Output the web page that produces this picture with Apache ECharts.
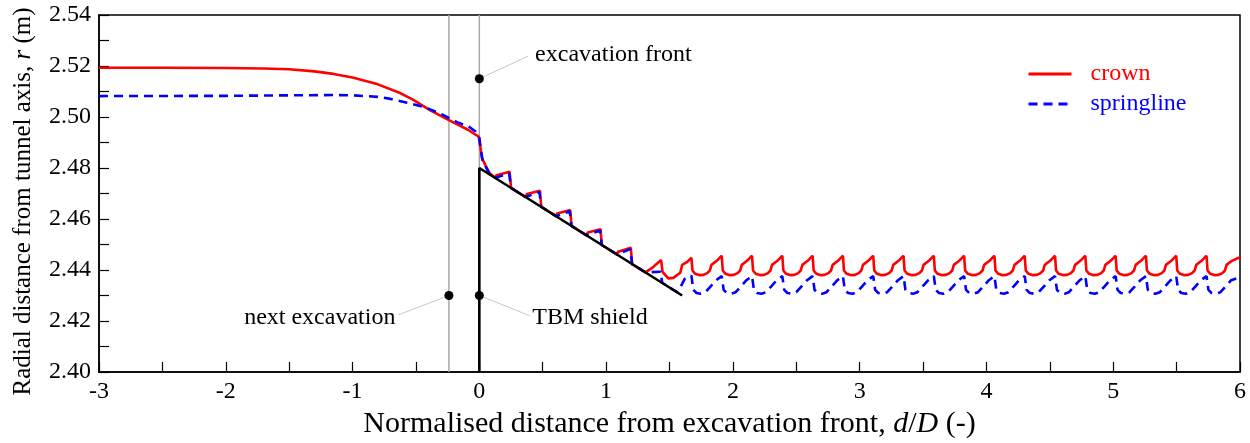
<!DOCTYPE html>
<html>
<head>
<meta charset="utf-8">
<script src="https://cdn.jsdelivr.net/npm/echarts@6/dist/echarts.min.js"></script>
<style>
    html, body { margin: 0; padding: 0; background: #fff; }
    #chart { width: 1250px; height: 443px; }
</style>
</head>
<body>
<div id="chart"></div>
<script>
// crown (red) radial distance vs d/D
var crown = [
    [-3, 2.5193], [-2.5, 2.5193], [-2, 2.5192], [-1.7, 2.5190], [-1.5, 2.5187], [-1.3, 2.5179],
    [-1.15, 2.5169], [-1.0, 2.5155], [-0.8, 2.5128], [-0.62, 2.5093], [-0.52, 2.5067], [-0.39, 2.5027],
    [-0.24, 2.4988], [-0.09, 2.4950], [-0.005, 2.4923],
    [0.008, 2.4884], [0.021, 2.4838], [0.047, 2.4812], [0.08, 2.4780],
    [0.125, 2.4762], [0.135, 2.4772], [0.239, 2.4785], [0.25, 2.4722],
    [0.365, 2.4686], [0.375, 2.4698], [0.478, 2.4711], [0.488, 2.4648],
    [0.605, 2.4611], [0.615, 2.4622], [0.717, 2.4635], [0.727, 2.4573],
    [0.845, 2.4536], [0.855, 2.4547], [0.956, 2.4560], [0.966, 2.4498],
    [1.085, 2.4461], [1.095, 2.4472], [1.195, 2.4487], [1.205, 2.4423],
    [1.31, 2.4391], [1.36, 2.4407], [1.434, 2.4439], [1.445, 2.4393], [1.49, 2.4367], [1.53, 2.4369],
    [1.585, 2.4389], [1.60, 2.4420], [1.64, 2.4432], [1.673, 2.4448],
    [1.681, 2.4398], [1.703, 2.4385], [1.733, 2.4380], [1.768, 2.4381], [1.798, 2.4388], [1.818, 2.4398], [1.831, 2.4420], [1.873, 2.4436], [1.912, 2.4456],
    [1.920, 2.4398], [1.942, 2.4385], [1.972, 2.4380], [2.007, 2.4381], [2.037, 2.4388], [2.057, 2.4398], [2.070, 2.4420], [2.112, 2.4436], [2.151, 2.4456],
    [2.159, 2.4398], [2.181, 2.4385], [2.211, 2.4380], [2.246, 2.4381], [2.276, 2.4388], [2.296, 2.4398], [2.309, 2.4420], [2.351, 2.4436], [2.390, 2.4456],
    [2.398, 2.4398], [2.420, 2.4385], [2.450, 2.4380], [2.485, 2.4381], [2.515, 2.4388], [2.535, 2.4398], [2.548, 2.4420], [2.590, 2.4436], [2.629, 2.4456],
    [2.637, 2.4398], [2.659, 2.4385], [2.689, 2.4380], [2.724, 2.4381], [2.754, 2.4388], [2.774, 2.4398], [2.787, 2.4420], [2.829, 2.4436], [2.868, 2.4456],
    [2.876, 2.4398], [2.898, 2.4385], [2.928, 2.4380], [2.963, 2.4381], [2.993, 2.4388], [3.013, 2.4398], [3.026, 2.4420], [3.068, 2.4436], [3.107, 2.4456],
    [3.115, 2.4398], [3.137, 2.4385], [3.167, 2.4380], [3.202, 2.4381], [3.232, 2.4388], [3.252, 2.4398], [3.265, 2.4420], [3.307, 2.4436], [3.346, 2.4456],
    [3.354, 2.4398], [3.376, 2.4385], [3.406, 2.4380], [3.441, 2.4381], [3.471, 2.4388], [3.491, 2.4398], [3.504, 2.4420], [3.546, 2.4436], [3.585, 2.4456],
    [3.593, 2.4398], [3.615, 2.4385], [3.645, 2.4380], [3.680, 2.4381], [3.710, 2.4388], [3.730, 2.4398], [3.743, 2.4420], [3.785, 2.4436], [3.824, 2.4456],
    [3.832, 2.4398], [3.854, 2.4385], [3.884, 2.4380], [3.919, 2.4381], [3.949, 2.4388], [3.969, 2.4398], [3.982, 2.4420], [4.024, 2.4436], [4.063, 2.4456],
    [4.071, 2.4398], [4.093, 2.4385], [4.123, 2.4380], [4.158, 2.4381], [4.188, 2.4388], [4.208, 2.4398], [4.221, 2.4420], [4.263, 2.4436], [4.302, 2.4456],
    [4.310, 2.4398], [4.332, 2.4385], [4.362, 2.4380], [4.397, 2.4381], [4.427, 2.4388], [4.447, 2.4398], [4.460, 2.4420], [4.502, 2.4436], [4.541, 2.4456],
    [4.549, 2.4398], [4.571, 2.4385], [4.601, 2.4380], [4.636, 2.4381], [4.666, 2.4388], [4.686, 2.4398], [4.699, 2.4420], [4.741, 2.4436], [4.780, 2.4456],
    [4.788, 2.4398], [4.810, 2.4385], [4.840, 2.4380], [4.875, 2.4381], [4.905, 2.4388], [4.925, 2.4398], [4.938, 2.4420], [4.980, 2.4436], [5.019, 2.4456],
    [5.027, 2.4398], [5.049, 2.4385], [5.079, 2.4380], [5.114, 2.4381], [5.144, 2.4388], [5.164, 2.4398], [5.177, 2.4420], [5.219, 2.4436], [5.258, 2.4456],
    [5.266, 2.4398], [5.288, 2.4385], [5.318, 2.4380], [5.353, 2.4381], [5.383, 2.4388], [5.403, 2.4398], [5.416, 2.4420], [5.458, 2.4436], [5.497, 2.4456],
    [5.505, 2.4398], [5.527, 2.4385], [5.557, 2.4380], [5.592, 2.4381], [5.622, 2.4388], [5.642, 2.4398], [5.655, 2.4420], [5.697, 2.4436], [5.736, 2.4456],
    [5.744, 2.4398], [5.766, 2.4385], [5.796, 2.4380], [5.831, 2.4381], [5.861, 2.4388], [5.881, 2.4398], [5.894, 2.4420], [5.936, 2.4436], [6.000, 2.4450]
];

// springline (blue dashed)
var springline = [
    [-3, 2.5082], [-2, 2.5083], [-1.5, 2.5085], [-1.15, 2.5086], [-1.0, 2.5085], [-0.8, 2.5079],
    [-0.7, 2.5071], [-0.57, 2.5056], [-0.44, 2.5040], [-0.31, 2.5014], [-0.176, 2.4980],
    [-0.084, 2.4963], [-0.03, 2.4943], [0, 2.4918],
    [0.01, 2.4878], [0.025, 2.4832], [0.05, 2.4805], [0.08, 2.4778],
    [0.125, 2.4761], [0.235, 2.4780], [0.25, 2.4722],
    [0.365, 2.4686], [0.474, 2.4706], [0.488, 2.4648],
    [0.605, 2.4611], [0.713, 2.4630], [0.727, 2.4573],
    [0.845, 2.4536], [0.952, 2.4555], [0.966, 2.4498],
    [1.085, 2.4461], [1.191, 2.4482], [1.205, 2.4423],
    [1.31, 2.4391], [1.43, 2.4393], [1.442, 2.4350], [1.56, 2.4313], [1.575, 2.4322],
    [1.62, 2.4365], [1.673, 2.4378],
    [1.688, 2.4322], [1.713, 2.4310], [1.748, 2.4307], [1.783, 2.4313], [1.823, 2.4335], [1.868, 2.4360], [1.912, 2.4376],
    [1.927, 2.4322], [1.952, 2.4310], [1.987, 2.4307], [2.022, 2.4313], [2.062, 2.4335], [2.107, 2.4360], [2.151, 2.4376],
    [2.166, 2.4322], [2.191, 2.4310], [2.226, 2.4307], [2.261, 2.4313], [2.301, 2.4335], [2.346, 2.4360], [2.390, 2.4376],
    [2.405, 2.4322], [2.430, 2.4310], [2.465, 2.4307], [2.500, 2.4313], [2.540, 2.4335], [2.585, 2.4360], [2.629, 2.4376],
    [2.644, 2.4322], [2.669, 2.4310], [2.704, 2.4307], [2.739, 2.4313], [2.779, 2.4335], [2.824, 2.4360], [2.868, 2.4376],
    [2.883, 2.4322], [2.908, 2.4310], [2.943, 2.4307], [2.978, 2.4313], [3.018, 2.4335], [3.063, 2.4360], [3.107, 2.4376],
    [3.122, 2.4322], [3.147, 2.4310], [3.182, 2.4307], [3.217, 2.4313], [3.257, 2.4335], [3.302, 2.4360], [3.346, 2.4376],
    [3.361, 2.4322], [3.386, 2.4310], [3.421, 2.4307], [3.456, 2.4313], [3.496, 2.4335], [3.541, 2.4360], [3.585, 2.4376],
    [3.600, 2.4322], [3.625, 2.4310], [3.660, 2.4307], [3.695, 2.4313], [3.735, 2.4335], [3.780, 2.4360], [3.824, 2.4376],
    [3.839, 2.4322], [3.864, 2.4310], [3.899, 2.4307], [3.934, 2.4313], [3.974, 2.4335], [4.019, 2.4360], [4.063, 2.4376],
    [4.078, 2.4322], [4.103, 2.4310], [4.138, 2.4307], [4.173, 2.4313], [4.213, 2.4335], [4.258, 2.4360], [4.302, 2.4376],
    [4.317, 2.4322], [4.342, 2.4310], [4.377, 2.4307], [4.412, 2.4313], [4.452, 2.4335], [4.497, 2.4360], [4.541, 2.4376],
    [4.556, 2.4322], [4.581, 2.4310], [4.616, 2.4307], [4.651, 2.4313], [4.691, 2.4335], [4.736, 2.4360], [4.780, 2.4376],
    [4.795, 2.4322], [4.820, 2.4310], [4.855, 2.4307], [4.890, 2.4313], [4.930, 2.4335], [4.975, 2.4360], [5.019, 2.4376],
    [5.034, 2.4322], [5.059, 2.4310], [5.094, 2.4307], [5.129, 2.4313], [5.169, 2.4335], [5.214, 2.4360], [5.258, 2.4376],
    [5.273, 2.4322], [5.298, 2.4310], [5.333, 2.4307], [5.368, 2.4313], [5.408, 2.4335], [5.453, 2.4360], [5.497, 2.4376],
    [5.512, 2.4322], [5.537, 2.4310], [5.572, 2.4307], [5.607, 2.4313], [5.647, 2.4335], [5.692, 2.4360], [5.736, 2.4376],
    [5.751, 2.4322], [5.776, 2.4310], [5.811, 2.4307], [5.846, 2.4313], [5.886, 2.4335], [5.931, 2.4360], [6.000, 2.4372]
];

// TBM shield outline
var shield = [[0, 2.40], [0, 2.48], [1.6, 2.43]];

// reference lines
var frontLine = [[0, 2.40], [0, 2.54]];
var nextLine = [[-0.24, 2.40], [-0.24, 2.54]];

// annotation dots and leaders
var dots = [[0, 2.515], [0, 2.43], [-0.24, 2.43]];
var leaderFront = [[0, 2.515], [0.386, 2.5239]];
var leaderShield = [[0, 2.43], [0.397, 2.4221]];
var leaderNext = [[-0.24, 2.43], [-0.639, 2.4224]];
var notes = [
    { name: 'excavation front', value: [0.44, 2.5243], label: { position: 'right' } },
    { name: 'TBM shield', value: [0.418, 2.4212], label: { position: 'right' } },
    { name: 'next excavation', value: [-0.662, 2.4212], label: { position: 'left' } }
];

var font = '"Liberation Serif", "Times New Roman", serif';

var myChart = echarts.init(document.getElementById('chart'));

function leader(data) {
    return {
        type: 'line', data: data, showSymbol: false, silent: true, z: 1,
        lineStyle: { color: '#c8c8c8', width: 1 }
    };
}

var option = {
    animation: false,
    backgroundColor: '#fff',
    grid: {
        left: 99, right: 10, top: 15, bottom: 71,
        outerBoundsMode: 'none',
        show: true, borderColor: '#000', borderWidth: 1.5
    },
    legend: {
        orient: 'vertical',
        left: 1022, top: 57,
        itemWidth: 43, itemHeight: 14, itemGap: 6,
        itemStyle: { opacity: 0 },
        lineStyle: { width: 3 },
        data: [
            { name: 'crown', textStyle: { color: '#ff0000' } },
            { name: 'springline', textStyle: { color: '#0000ff' } }
        ],
        textStyle: { fontFamily: font, fontSize: 24, lineHeight: 24, padding: [0, 0, 0, 14] }
    },
    xAxis: {
        type: 'value', min: -3, max: 6, interval: 0.5,
        name: 'Normalised distance from excavation front, {i|d}/{i|D} (-)',
        nameLocation: 'middle', nameGap: 34,
        nameTextStyle: {
            fontFamily: font, fontSize: 30, color: '#000',
            rich: { i: { fontFamily: font, fontSize: 30, fontStyle: 'italic', color: '#000' } }
        },
        axisLine: { show: true, onZero: false, lineStyle: { color: '#000', width: 1.5 } },
        axisTick: { show: true, inside: true, length: 10, lineStyle: { color: '#000', width: 1.2 } },
        axisLabel: {
            fontFamily: font, fontSize: 24, color: '#000', margin: 8,
            formatter: function (v) { return Math.abs(v - Math.round(v)) < 1e-6 ? String(Math.round(v)) : ''; }
        },
        splitLine: { show: false }
    },
    yAxis: {
        type: 'value', min: 2.40, max: 2.54, interval: 0.01,
        name: 'Radial distance from tunnel axis, {i|r} (m)',
        nameLocation: 'middle', nameGap: 63,
        nameTextStyle: {
            fontFamily: font, fontSize: 25, color: '#000', padding: [0, 16, 0, 0],
            rich: { i: { fontFamily: font, fontSize: 25, fontStyle: 'italic', color: '#000' } }
        },
        axisLine: { show: true, onZero: false, lineStyle: { color: '#000', width: 1.5 } },
        axisTick: { show: true, inside: true, length: 10, lineStyle: { color: '#000', width: 1.2 } },
        axisLabel: {
            fontFamily: font, fontSize: 24, color: '#000', margin: 8,
            formatter: function (v) { return Math.round(v * 100) % 2 === 0 ? v.toFixed(2) : ''; }
        },
        splitLine: { show: false }
    },
    series: [
        {
            type: 'line', data: frontLine, showSymbol: false, silent: true, z: 1,
            lineStyle: { color: '#a8a8a8', width: 1.5 }
        },
        {
            type: 'line', data: nextLine, showSymbol: false, silent: true, z: 1,
            lineStyle: { color: '#a8a8a8', width: 1.5 }
        },
        leader(leaderFront),
        leader(leaderShield),
        leader(leaderNext),
        {
            name: 'crown', type: 'line', data: crown, showSymbol: false, symbol: 'none', z: 2,
            itemStyle: { color: '#ff0000' },
            lineStyle: { color: '#ff0000', width: 2.6 }
        },
        {
            name: 'springline', type: 'line', data: springline, showSymbol: false, symbol: 'none', z: 3,
            itemStyle: { color: '#0000ff' },
            lineStyle: { color: '#0000ff', width: 2.6, type: [9, 6] }
        },
        {
            type: 'line', data: shield, showSymbol: false, silent: true, z: 4,
            lineStyle: { color: '#000', width: 2.6 }
        },
        {
            type: 'scatter', data: dots, symbolSize: 9, silent: true, z: 5,
            itemStyle: { color: '#000', opacity: 1 }
        },
        {
            type: 'scatter', data: notes, symbolSize: 0, silent: true, z: 5,
            itemStyle: { opacity: 1 },
            label: {
                show: true, distance: 0, formatter: '{b}',
                fontFamily: font, fontSize: 24, color: '#000', opacity: 1
            }
        }
    ]
};
myChart.setOption(option);
</script>
</body>
</html>
